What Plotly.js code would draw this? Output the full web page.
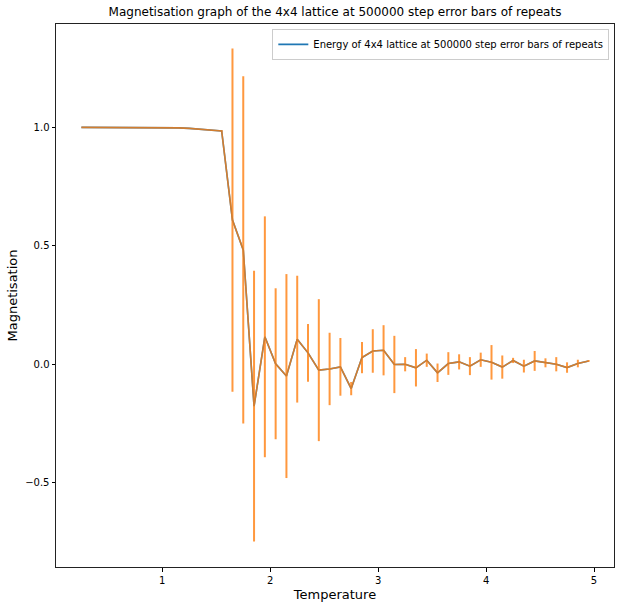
<!DOCTYPE html>
<html>
<head>
<meta charset="utf-8">
<script src="https://cdn.plot.ly/plotly-3.0.1.min.js"></script>
<style>
  html, body { margin: 0; padding: 0; background: #fff; }
  #chart { width: 624px; height: 608px; }
</style>
</head>
<body>
<div id="chart"></div>
<script>
// temperatures of the runs
let temperature = [0.25, 0.35, 0.45, 0.55, 0.65, 0.75, 0.85, 0.95, 1.05, 1.15,
                   1.25, 1.35, 1.45, 1.55, 1.65, 1.75, 1.85, 1.95, 2.05, 2.15,
                   2.25, 2.35, 2.45, 2.55, 2.65, 2.75, 2.85, 2.95, 3.05, 3.15,
                   3.25, 3.35, 3.45, 3.55, 3.65, 3.75, 3.85, 3.95, 4.05, 4.15,
                   4.25, 4.35, 4.45, 4.55, 4.65, 4.75, 4.85, 4.95];
// mean magnetisation over repeats
let magnetisation = [1.0, 1.0, 1.0, 1.0, 1.0, 1.0, 1.0, 1.0, 0.999, 0.998,
                     0.996, 0.993, 0.989, 0.985, 0.608, 0.482, -0.178, 0.115, 0.001, -0.051,
                     0.105, 0.047, -0.026, -0.021, -0.012, -0.104, 0.027, 0.055, 0.058, -0.002,
                     -0.001, -0.016, 0.016, -0.037, 0.002, 0.009, -0.009, 0.018, 0.007, -0.013,
                     0.015, -0.009, 0.013, 0.005, -0.001, -0.015, 0.002, 0.013];
// error of the repeats
let magError = [0, 0, 0, 0, 0, 0, 0, 0, 0, 0,
                0, 0, 0, 0.003, 0.725, 0.734, 0.572, 0.509, 0.319, 0.431,
                0.268, 0.122, 0.300, 0.153, 0.122, 0.028, 0.066, 0.092, 0.106, 0.121,
                0.030, 0.079, 0.028, 0.039, 0.048, 0.032, 0.038, 0.030, 0.073, 0.049,
                0.011, 0.027, 0.042, 0.019, 0.030, 0.022, 0.016, 0.004];
let xTicks = [1, 2, 3, 4, 5];
let yTicks = [-0.5, 0.0, 0.5, 1.0];

let font = 'DejaVu Sans, sans-serif';

let lineTrace = {
    x: temperature,
    y: magnetisation,
    type: 'scatter',
    mode: 'lines',
    name: 'Energy of 4x4 lattice at 500000 step error bars of repeats',
    line: { color: '#1f77b4', width: 1.6 }
};
let errTrace = {
    x: temperature,
    y: magnetisation,
    type: 'scatter',
    mode: 'lines',
    showlegend: false,
    opacity: 0.8,
    line: { color: '#ff7f0e', width: 1.6 },
    error_y: { type: 'data', array: magError, visible: true, color: '#ff7f0e', thickness: 2, width: 0 }
};

let axis = (ticks, range, fmt) => ({
    range: range,
    tickvals: ticks,
    tickformat: fmt,
    ticks: 'outside',
    ticklen: 3.5,
    tickwidth: 0.8,
    tickcolor: '#000',
    showline: true,
    mirror: true,
    linecolor: '#222',
    linewidth: 1,
    showgrid: false,
    zeroline: false,
    tickfont: { family: font, size: 10, color: '#000' }
});

let layout = {
    width: 624,
    height: 608,
    margin: { l: 56, r: 10, t: 23.5, b: 41 },
    paper_bgcolor: '#fff',
    plot_bgcolor: '#fff',
    title: {
        text: 'Magnetisation graph of the 4x4 lattice at 500000 step error bars of repeats',
        font: { family: font, size: 12, color: '#000' },
        xref: 'paper', x: 0.5, xanchor: 'center',
        yref: 'container', y: 1 - 12 / 608, yanchor: 'middle'
    },
    xaxis: Object.assign(axis(xTicks, [0.015, 5.185], 'd'), {
        title: { text: 'Temperature', font: { family: font, size: 13, color: '#000' }, standoff: 5 }
    }),
    yaxis: Object.assign(axis(yTicks, [-0.858, 1.437], '.1f'), {
        title: { text: 'Magnetisation', font: { family: font, size: 13, color: '#000' }, standoff: 4 }
    }),
    showlegend: true,
    legend: {
        x: 0.9916, y: 0.991, xanchor: 'right', yanchor: 'top',
        bgcolor: '#fff', bordercolor: '#ccc', borderwidth: 1,
        font: { family: font, size: 10, color: '#000' }
    }
};

Plotly.newPlot('chart', [lineTrace, errTrace], layout, { displayModeBar: false });
</script>
</body>
</html>
